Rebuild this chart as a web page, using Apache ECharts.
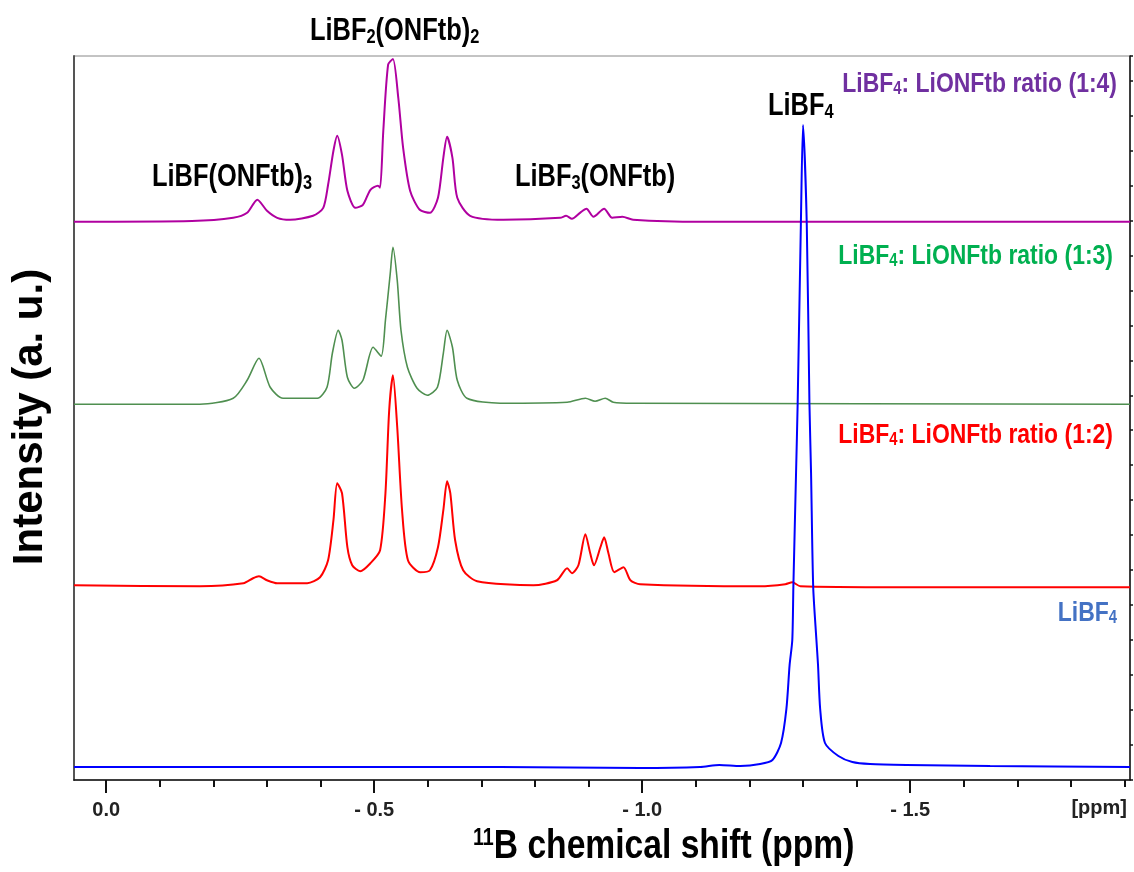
<!DOCTYPE html>
<html>
<head>
<meta charset="utf-8">
<title>11B NMR</title>
<script src="https://cdn.jsdelivr.net/npm/echarts@6/dist/echarts.min.js"></script>
<style>
  html, body { margin: 0; padding: 0; background: #fff; }
  #chart { width: 1134px; height: 872px; }
</style>
</head>
<body>
<div id="chart"></div>
<script>
// spectra: [shift in ppm, intensity above own baseline]
const ratio14 = [[0.06,0],[-0.16,0.1],[-0.237,0.55],[-0.263,1.24],[-0.282,3.04],[-0.300,1.52],[-0.319,0.55],[-0.343,0.28],[-0.386,0.83],[-0.405,1.93],[-0.414,5.11],[-0.424,9.81],[-0.431,11.88],[-0.440,9.25],[-0.450,4.28],[-0.465,1.93],[-0.479,2.35],[-0.493,4.42],[-0.507,4.97],[-0.511,4.70],[-0.517,12.57],[-0.526,21.7],[-0.535,22.5],[-0.545,17.1],[-0.554,10.2],[-0.567,4.28],[-0.585,1.66],[-0.604,1.24],[-0.619,3.31],[-0.629,8.84],[-0.636,11.74],[-0.646,8.84],[-0.655,3.31],[-0.679,0.83],[-0.741,0.28],[-0.847,0.55],[-0.858,0.83],[-0.869,0.41],[-0.884,1.24],[-0.896,1.8],[-0.909,0.69],[-0.929,1.8],[-0.944,0.55],[-0.963,0.69],[-0.983,0.28],[-1.108,0],[-1.91,0]];
const ratio13 = [[0.06,0],[-0.175,0],[-0.237,0.83],[-0.263,3.31],[-0.285,6.35],[-0.306,2.35],[-0.330,0.83],[-0.394,0.83],[-0.412,2.35],[-0.422,7.04],[-0.433,10.22],[-0.440,8.84],[-0.450,3.73],[-0.463,2.21],[-0.479,3.31],[-0.498,7.87],[-0.513,6.63],[-0.521,11.6],[-0.530,18.09],[-0.535,21.69],[-0.543,17.13],[-0.550,10.22],[-0.562,5.11],[-0.580,2.21],[-0.599,1.24],[-0.618,2.35],[-0.629,7.04],[-0.636,10.22],[-0.646,7.87],[-0.655,3.31],[-0.673,0.83],[-0.735,0.14],[-0.860,0.28],[-0.894,0.83],[-0.912,0.41],[-0.931,0.83],[-0.946,0.28],[-0.983,0.14],[-1.91,0]];
const ratio12 = [[0.06,0],[-0.175,-0.14],[-0.256,0.28],[-0.274,0.97],[-0.285,1.24],[-0.300,0.69],[-0.319,0.28],[-0.375,0.28],[-0.399,1.10],[-0.414,3.45],[-0.424,8.98],[-0.431,14.09],[-0.440,12.71],[-0.450,5.25],[-0.459,2.76],[-0.474,1.93],[-0.493,3.04],[-0.511,4.83],[-0.521,12.71],[-0.528,24.17],[-0.535,29.0],[-0.543,21.82],[-0.552,10.36],[-0.563,3.45],[-0.586,1.80],[-0.604,2.07],[-0.619,5.25],[-0.629,10.36],[-0.636,14.36],[-0.642,12.71],[-0.651,6.22],[-0.666,2.07],[-0.692,0.55],[-0.797,0],[-0.841,0.69],[-0.860,2.35],[-0.869,1.66],[-0.881,2.76],[-0.894,7.04],[-0.903,4.42],[-0.910,2.76],[-0.922,5.25],[-0.929,6.63],[-0.937,4.42],[-0.948,1.80],[-0.965,2.49],[-0.978,0.69],[-0.996,0.14],[-1.220,-0.14],[-1.267,0.14],[-1.280,0.41],[-1.295,-0.14],[-1.481,-0.28],[-1.91,-0.28]];
const libf4 = [[0.06,0],[-0.362,0],[-0.735,0],[-0.996,-0.14],[-1.108,0],[-1.144,0.28],[-1.183,0.14],[-1.220,0.41],[-1.243,0.97],[-1.259,3.31],[-1.269,8.01],[-1.275,14.09],[-1.280,17.54],[-1.282,24.86],[-1.287,40.61],[-1.290,50.14],[-1.296,75.0],[-1.300,88.67],[-1.307,75.0],[-1.312,50.14],[-1.315,40.61],[-1.319,24.86],[-1.325,17.54],[-1.328,14.09],[-1.332,8.01],[-1.341,3.31],[-1.366,1.52],[-1.392,0.69],[-1.425,0.41],[-1.493,0.28],[-1.649,0.14],[-1.91,0]];

// stacking offsets (a. u.) for the four traces
const seriesNames = ['1:4', '1:3', '1:2', 'LiBF4'];
const offsets = [77.1, 51.9, 26.9, 1.8];
const colors = ['#B000A0', '#4F8F50', '#FF0000', '#0000FF'];

const majorTicks = [0, -0.5, -1.0, -1.5];
const minorTicks = [-0.1, -0.2, -0.3, -0.4, -0.6, -0.7, -0.8, -0.9, -1.1, -1.2, -1.3, -1.4, -1.6, -1.7, -1.8, -1.9];

const SANS = '"Liberation Sans", Arial, sans-serif';
const SQUEEZE = 0.82; // labels in the figure are horizontally condensed

function shifted(data, off) {
    return data.map(p => [p[0], p[1] + off]);
}

// rich label with subscripts: parts like ['LiBF', '_2', '(ONFtb)', '_2']
function richLabel(parts, size, color, align) {
    const text = parts.map(p => p[0] === '_' ? '{s|' + p.slice(1) + '}' : '{m|' + p + '}').join('');
    const sub = Math.round(size * 0.66);
    return {
        text: text,
        align: align || 'left',
        verticalAlign: 'top',
        rich: {
            m: { fontFamily: SANS, fontWeight: 'bold', fontSize: size, lineHeight: size, fill: color },
            s: {
                fontFamily: SANS, fontWeight: 'bold', fontSize: sub, lineHeight: sub,
                padding: [Math.round(size * 0.3), 0, 0, 0], verticalAlign: 'bottom', fill: color
            }
        }
    };
}

function label(x, y, parts, size, color, align) {
    return { type: 'text', x: x, y: y, scaleX: SQUEEZE, style: richLabel(parts, size, color, align) };
}

function createSpectrum(elementId) {
    const chart = echarts.init(document.getElementById(elementId));
    const spectra = [ratio14, ratio13, ratio12, libf4];

    const option = {
        animation: false,
        grid: { left: 74, top: 56, right: 4, bottom: 92, show: true, borderColor: '#888', borderWidth: 1 },
        xAxis: [{
            type: 'value', min: -1.91, max: 0.06, inverse: true,
            axisLine: { show: true, onZero: false, lineStyle: { color: '#111', width: 1.5 } },
            axisTick: { show: true, customValues: majorTicks, length: 13, lineStyle: { color: '#111', width: 2 } },
            axisLabel: {
                customValues: majorTicks, margin: 20,
                fontFamily: SANS, fontWeight: 'bold', fontSize: 20, color: '#222',
                formatter: v => v === 0 ? '0.0' : '- ' + Math.abs(v).toFixed(1)
            },
            splitLine: { show: false }
        }, {
            type: 'value', min: -1.91, max: 0.06, inverse: true, position: 'bottom',
            axisLine: { show: false, onZero: false },
            axisTick: { show: true, customValues: minorTicks, length: 7, lineStyle: { color: '#111', width: 2 } },
            axisLabel: { show: false },
            splitLine: { show: false }
        }],
        yAxis: [{
            type: 'value', min: 0, max: 100, position: 'left',
            axisLine: { show: true, onZero: false, lineStyle: { color: '#555', width: 2 } },
            axisTick: { show: false }, axisLabel: { show: false }, splitLine: { show: false }
        }, {
            type: 'value', min: 0, max: 20.7, interval: 1, position: 'right',
            axisLine: { show: true, onZero: false, lineStyle: { color: '#111', width: 1.5 } },
            axisTick: { show: true, length: 3, lineStyle: { color: '#111', width: 1.5 } },
            axisLabel: { show: false }, splitLine: { show: false }
        }],
        series: spectra.map((d, i) => ({
            name: seriesNames[i],
            type: 'line',
            data: shifted(d, offsets[i]),
            showSymbol: false,
            smooth: 0.25,
            z: i === 3 ? 5 : 3,
            lineStyle: { color: colors[i], width: i === 1 ? 1.6 : 2 }
        })),
        graphic: [
            label(310, 16, ['LiBF', '_2', '(ONFtb)', '_2'], 31, '#000'),
            label(152, 162, ['LiBF(ONFtb)', '_3'], 31, '#000'),
            label(515, 162, ['LiBF', '_3', '(ONFtb)'], 31, '#000'),
            label(768, 91, ['LiBF', '_4'], 31, '#000'),
            label(1117, 70, ['LiBF', '_4', ': LiONFtb ratio (1:4)'], 28, '#7030A0', 'right'),
            label(1113, 242, ['LiBF', '_4', ': LiONFtb ratio (1:3)'], 28, '#00B050', 'right'),
            label(1113, 421, ['LiBF', '_4', ': LiONFtb ratio (1:2)'], 28, '#FF0000', 'right'),
            label(1117, 599, ['LiBF', '_4'], 28, '#4472C4', 'right'),
            {
                type: 'text', x: 1127, y: 798,
                style: { text: '[ppm]', align: 'right', verticalAlign: 'top', fontFamily: SANS, fontWeight: 'bold', fontSize: 20, fill: '#222' }
            },
            {
                type: 'text', x: 473, y: 826, scaleX: SQUEEZE,
                style: {
                    text: '{p|11}{m|B chemical shift (ppm)}',
                    verticalAlign: 'top',
                    rich: {
                        m: { fontFamily: SANS, fontWeight: 'bold', fontSize: 41, lineHeight: 41, fill: '#000' },
                        p: { fontFamily: SANS, fontWeight: 'bold', fontSize: 24, lineHeight: 18, verticalAlign: 'top', fill: '#000' }
                    }
                }
            },
            {
                type: 'text', x: 30, y: 417, rotation: Math.PI / 2,
                style: {
                    text: 'Intensity (a. u.)', align: 'center', verticalAlign: 'middle',
                    fontFamily: SANS, fontWeight: 'bold', fontSize: 42, fill: '#000'
                }
            }
        ]
    };

    chart.setOption(option);

    window.addEventListener('resize', () => {
        chart.resize();
    });

    return chart;
}

createSpectrum('chart');
</script>
</body>
</html>
